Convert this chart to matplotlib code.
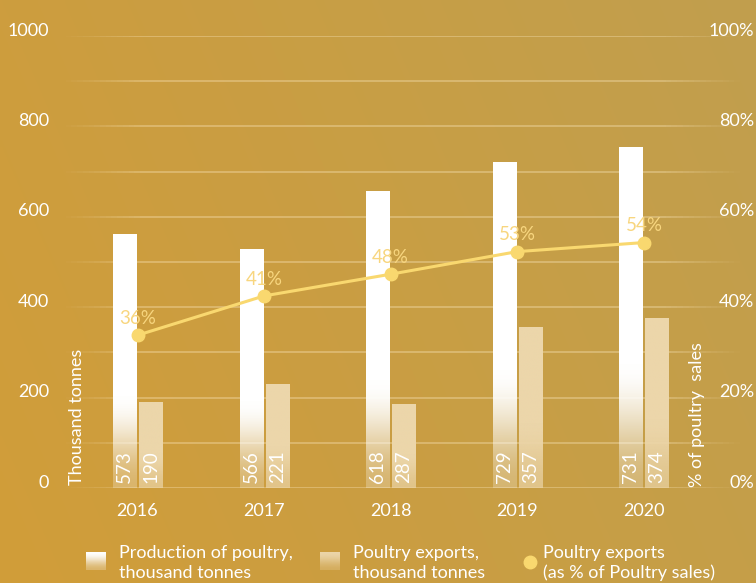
import numpy as np
import matplotlib
matplotlib.use('Agg')
import matplotlib.pyplot as plt
from matplotlib.collections import LineCollection
from matplotlib import transforms

plt.rcParams['font.family'] = ['Lato', 'DejaVu Sans']

# data
years = ['2016', '2017', '2018', '2019', '2020']
production = [560, 527, 657, 721, 754]          # bar heights as drawn
exports = [190, 230, 184, 354, 374]
production_labels = ['573', '566', '618', '729', '731']
exports_labels = ['190', '221', '287', '357', '374']
export_share = [33.8, 42.5, 47.3, 52.3, 54.3]    # line, % (as drawn)
share_labels = ['36%', '41%', '48%', '53%', '54%']
left_ticks = [0, 200, 400, 600, 800, 1000]
right_ticks = [0, 20, 40, 60, 80, 100]

W, H = 756, 583
fig = plt.figure(figsize=(W / 100, H / 100), dpi=100)

# background gradient
bg = fig.add_axes([0, 0, 1, 1], zorder=-10)
gx = np.linspace(0, 1, 200)[None, :]
gy = np.linspace(0, 1, 160)[:, None]
t = np.clip(0.75 * gx + 0.25 * (1 - gy), 0, 1)
c0 = np.array([209, 157, 57]) / 255
c1 = np.array([193, 159, 78]) / 255
img = c0[None, None, :] * (1 - t[..., None]) + c1[None, None, :] * t[..., None]
bg.imshow(img, aspect='auto', extent=[0, 1, 0, 1], interpolation='bilinear')
bg.axis('off')

x0_px, x1_px, y0_px, y1_px = 60, 740, 488, 36
ax = fig.add_axes([x0_px / W, 1 - y0_px / H, (x1_px - x0_px) / W, (y0_px - y1_px) / H])
ax.set_facecolor('none')
xlim = ((x0_px - 137.5) / 126.6, (x1_px - 137.5) / 126.6)

x = np.arange(len(years))
bw = 0.182
off = 0.103


def bar_gradient(rgb, a_bottom, frac):
    n = 200
    f = np.linspace(1, 0, n)  # top -> bottom
    s = np.clip(f / frac, 0, 1)
    s = s * s * (3 - 2 * s)
    a = a_bottom + (1 - a_bottom) * s
    arr = np.zeros((n, 1, 4))
    arr[:, 0, :3] = rgb
    arr[:, 0, 3] = a
    return arr


for i in range(len(years)):
    g = bar_gradient(np.array([1, 1, 1]), 0.25, 0.36)
    ax.imshow(g, extent=[x[i] - off - bw / 2, x[i] - off + bw / 2, 0, production[i]],
              aspect='auto', zorder=3, interpolation='bilinear')
    g2 = bar_gradient(np.array([236, 214, 170]) / 255, 0.7, 0.4)
    ax.imshow(g2, extent=[x[i] + off - bw / 2, x[i] + off + bw / 2, 0, exports[i]],
              aspect='auto', zorder=3, interpolation='bilinear')

# value labels inside bars
lift = transforms.offset_copy(ax.transData, fig=fig, x=0, y=5, units='dots')
for i in range(len(years)):
    ax.text(x[i] - off, 0, production_labels[i], rotation=90, ha='center', va='bottom',
            color='white', fontsize=13.5, transform=lift, zorder=5)
    ax.text(x[i] + off, 0, exports_labels[i], rotation=90, ha='center', va='bottom',
            color='white', fontsize=13.5, transform=lift, zorder=5)

# faded grid lines
xs = np.linspace(xlim[0], xlim[1], 120)
fr = np.linspace(0, 1, 120)
alpha = np.clip(np.minimum(fr / 0.12, (1 - fr) / 0.12), 0, 1) * 0.42
for v in range(0, 1001, 100):
    segs = [[(xs[k], v), (xs[k + 1], v)] for k in range(len(xs) - 1)]
    cols = [(1, 0.93, 0.78, alpha[k]) for k in range(len(xs) - 1)]
    ax.add_collection(LineCollection(segs, colors=cols, linewidths=1.1, zorder=1))

ax.set_xlim(xlim)
ax.set_ylim(0, 1000)
ax.set_xticks(x)
ax.set_xticklabels(years)
ax.set_yticks(left_ticks)
ax.set_yticklabels([str(v) for v in left_ticks])
ax.tick_params(axis='both', length=0, colors='white', labelsize=13)
ax.tick_params(axis='x', pad=11)
ax.tick_params(axis='y', pad=8)
for sp in ax.spines.values():
    sp.set_visible(False)

ax2 = ax.twinx()
ax2.set_ylim(0, 100)
ax2.set_yticks(right_ticks)
ax2.set_yticklabels([f'{v}%' for v in right_ticks])
ax2.tick_params(axis='y', length=0, colors='white', labelsize=13, pad=10)
for lab in ax2.get_yticklabels():
    lab.set_horizontalalignment('right')
for sp in ax2.spines.values():
    sp.set_visible(False)

up = transforms.ScaledTranslation(0, 7 / 100, fig.dpi_scale_trans)
for lab in ax.get_yticklabels() + ax2.get_yticklabels():
    lab.set_transform(lab.get_transform() + up)

line_c = '#f9d86f'
ax2.plot(x, export_share, color=line_c, lw=2.2, marker='o', ms=9, zorder=6)
for i in range(len(years)):
    ax2.annotate(share_labels[i], (x[i], export_share[i]), xytext=(0, 8),
                 textcoords='offset points', ha='center', va='baseline',
                 color='#f8d67f', fontsize=13.5, zorder=7)

fig.text(77 / W, 1 - 485 / H, 'Thousand tonnes', rotation=90, ha='center', va='bottom',
         color='white', fontsize=13)
fig.text(697 / W, 1 - 487 / H, '% of poultry  sales', rotation=90, ha='center', va='bottom',
         color='white', fontsize=13)

# legend drawn on a pixel-space overlay
lg = fig.add_axes([0, 0, 1, 1], zorder=10)
lg.set_xlim(0, W)
lg.set_ylim(H, 0)
lg.axis('off')
sw1 = bar_gradient(np.array([1, 1, 1]), 0.25, 1.0)
sw2 = bar_gradient(np.array([236, 214, 170]) / 255, 0.3, 1.0)
lg.imshow(sw1, extent=[86, 106, 570, 552], aspect='auto', interpolation='bilinear')
lg.imshow(sw2, extent=[320, 340, 570, 552], aspect='auto', interpolation='bilinear')
lg.plot([530], [562], 'o', color=line_c, ms=9)
lg.set_xlim(0, W)
lg.set_ylim(H, 0)
legend_texts = ['Production of poultry,\nthousand tonnes',
                'Poultry exports,\nthousand tonnes',
                'Poultry exports\n(as % of Poultry sales)']
for tx, s in zip([119, 353, 543], legend_texts):
    lg.text(tx, 563, s, ha='left', va='center', color='white', fontsize=13, linespacing=1.3)

fig.savefig('out.png', dpi=100)
